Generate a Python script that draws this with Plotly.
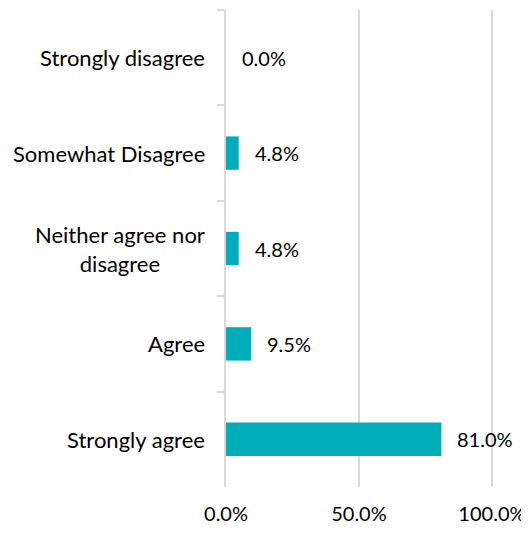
import plotly.graph_objects as go

categories = ["Strongly disagree", "Somewhat Disagree", "Neither agree nor<br>disagree", "Agree", "Strongly agree"]
values = [0.0, 4.8, 4.8, 9.5, 81.0]
x_ticks = [0, 50, 100]
x_tick_labels = ["0.0%", "50.0%", "100.0%"]

FONT = "Gill Sans, Gill Sans MT, Lato, sans-serif"
BAR = "#00ADB9"
GRID = "#D9D9D9"

fig = go.Figure(go.Bar(
    x=values, y=categories, orientation="h",
    marker=dict(color=BAR, line=dict(width=0)),
    width=0.35, hoverinfo="skip",
))

for c, v in zip(categories, values):
    fig.add_annotation(x=v, y=c, xref="x", yref="y", text=f"{v:.1f}%",
                       showarrow=False, xanchor="left", xshift=14,
                       font=dict(family=FONT, size=20, color="#000000"))
    fig.add_annotation(x=0, y=c, xref="paper", yref="y", text=c,
                       showarrow=False, xanchor="right", xshift=-19, align="center",
                       font=dict(family=FONT, size=22, color="#000000"))

# the page body adds an 8px offset, so the figure is sized 8px smaller
fig.update_layout(
    width=521, height=525,
    margin=dict(l=218, r=36, t=2, b=46),
    paper_bgcolor="white", plot_bgcolor="white",
    showlegend=False,
    font=dict(family=FONT, size=20, color="#000000"),
    xaxis=dict(range=[0, 100.4], tickvals=x_ticks, ticktext=x_tick_labels,
               showgrid=True, gridcolor=GRID, gridwidth=1.5, zeroline=False,
               showline=False, ticks="", ticklabelstandoff=13, automargin=False,
               tickfont=dict(family=FONT, size=20, color="#000000")),
    yaxis=dict(autorange="reversed", showticklabels=False, showgrid=False,
               showline=True, linecolor=GRID, linewidth=1.5, automargin=False,
               ticks="outside", tickson="boundaries", ticklen=7, tickcolor=GRID,
               tickwidth=1.5, zeroline=False),
)

fig.write_html("out.html")
